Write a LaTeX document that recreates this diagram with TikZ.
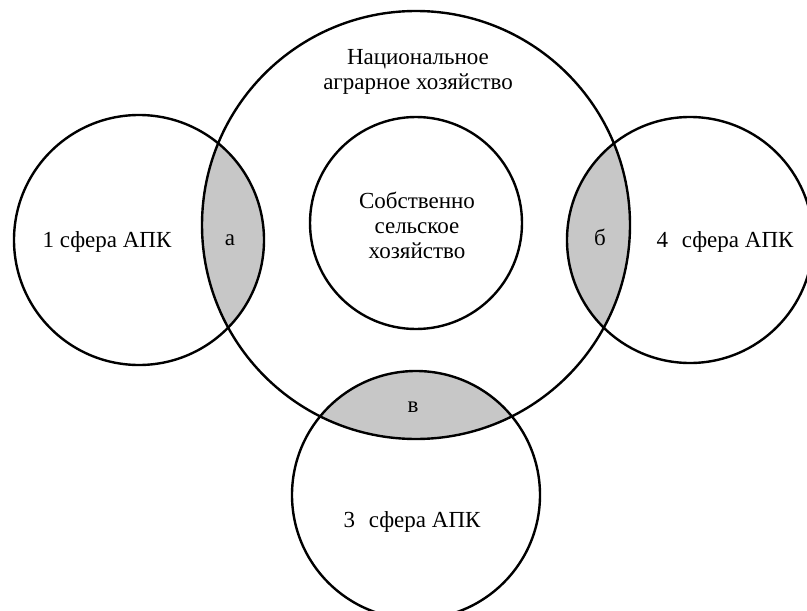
\documentclass[tikz,border=0pt]{standalone}
\usepackage{fontspec}
\setmainfont{Liberation Serif}
\usetikzlibrary{positioning}
\tikzset{
    sphere/.style = {draw, line width=1.2pt},
    lens/.style = {fill=black!22},
    lbl/.style = {align=center, inner sep=0pt,
        font=\fontsize{11.5}{12.5}\selectfont}
}
\begin{document}
\begin{tikzpicture}[x=0.5pt,y=-0.5pt]
    \useasboundingbox (0,0) rectangle (807,610);
    \coordinate (nat) at (416,225);
    \coordinate (own) at (416,223);
    \coordinate (s1) at (139,240);
    \coordinate (s4) at (690,240);
    \coordinate (s3) at (416,495);
    % shaded overlaps
    \begin{scope}
        \clip (nat) circle[radius=107pt];
        \fill[lens] (s1) circle[radius=62.5pt];
        \fill[lens] (s4) circle[radius=61.5pt];
        \fill[lens] (s3) circle[radius=62pt];
    \end{scope}
    \draw[sphere] (nat) circle[radius=107pt];
    \draw[sphere] (own) circle[radius=53pt];
    \draw[sphere] (s1) circle[radius=62.5pt];
    \draw[sphere] (s4) circle[radius=61.5pt];
    \draw[sphere] (s3) circle[radius=62pt];
    % labels
    \node[lbl] (natlbl) at (418,72) {Национальное\\аграрное хозяйство};
    \node[lbl] (ownlbl) at (417,225) {Собственно\\сельское\\хозяйство};
    \node[lbl,anchor=base] (s1lbl) at (107,247) {1 сфера АПК};
    \node[lbl,anchor=base] (s4lbl) at (725,247) {4\hspace{0.6em}сфера АПК};
    \node[lbl,anchor=base] (s3lbl) at (412,527) {3\hspace{0.6em}сфера АПК};
    \node[lbl,anchor=base] (a) at (230,245) {а};
    \node[lbl,anchor=base] (b) at (600,245) {б};
    \node[lbl,anchor=base] (v) at (413,412) {в};
\end{tikzpicture}
\end{document}
